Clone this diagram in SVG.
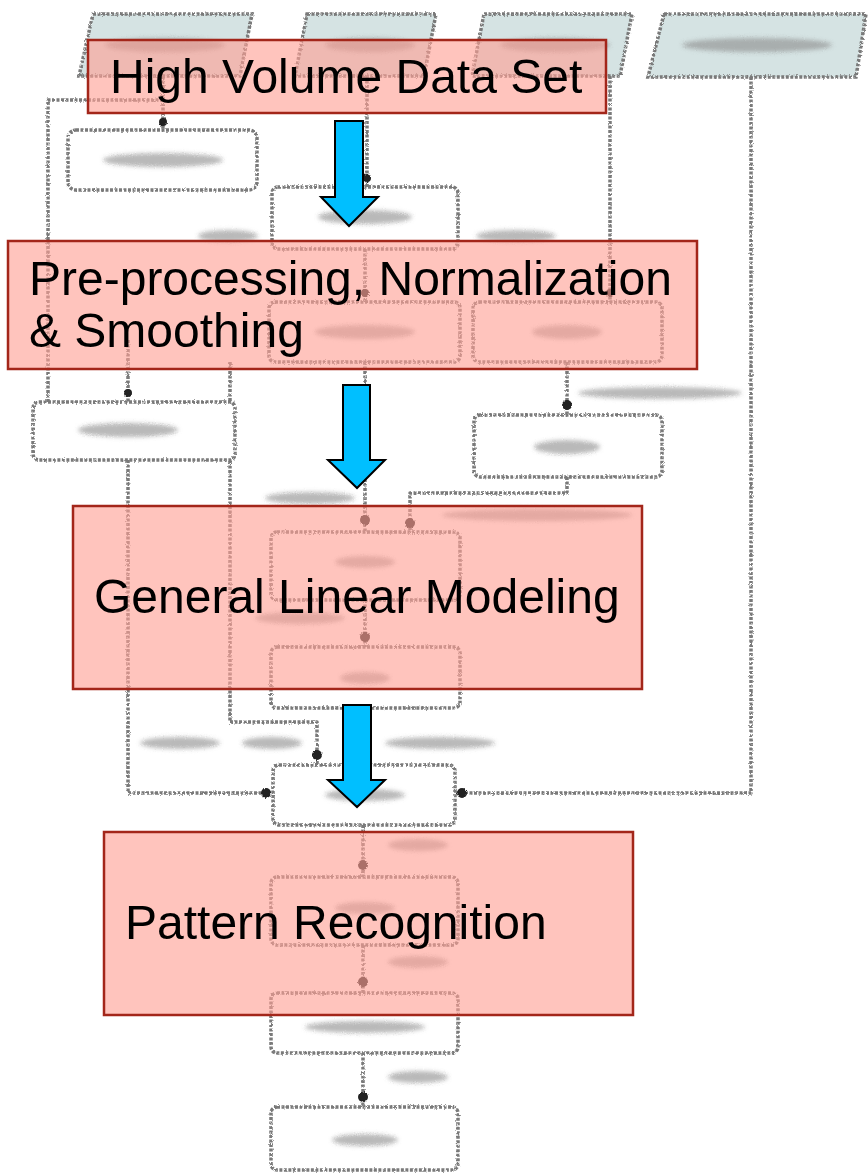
<svg xmlns="http://www.w3.org/2000/svg" width="868" height="1175" viewBox="0 0 868 1175">
<style>
.bg{fill:none;stroke:#7a7a7a;stroke-width:3.5;stroke-dasharray:3 1.5;stroke-linejoin:round}
.bgbox{fill:#ffffff;stroke:#7a7a7a;stroke-width:3.5;stroke-dasharray:3 1.5}
.io{fill:#d5e3e3;stroke:#7a7a7a;stroke-width:3.5;stroke-dasharray:3 1.5}
.blob{fill:#8a8a8a;opacity:0.6}
.dot{fill:#222222}
.node rect{fill:#ff9f94;fill-opacity:0.62;stroke:#a3261a;stroke-width:2.5}
.node text{font-family:"Liberation Sans",Arial,sans-serif;font-size:48px;fill:#000}
.arrow{fill:#00bfff;stroke:#000;stroke-width:2;stroke-linejoin:miter}
</style>
<defs>
<filter id="rough" x="-5%" y="-5%" width="110%" height="110%">
<feTurbulence type="fractalNoise" baseFrequency="0.9" numOctaves="1" seed="3" result="n"/>
<feDisplacementMap in="SourceGraphic" in2="n" scale="3" xChannelSelector="R" yChannelSelector="G"/>
</filter>
<filter id="fuzz" x="-20%" y="-50%" width="140%" height="200%">
<feGaussianBlur stdDeviation="2"/>
</filter>
</defs>
<rect width="868" height="1175" fill="#ffffff"/>

<g id="background-flowchart" filter="url(#rough)">
<polygon class="io" points="93,14 252,14 240,76 79,76"/>
<polygon class="io" points="307,14 436,14 424,76 295,76"/>
<polygon class="io" points="484,14 632,14 620,76 472,76"/>
<polygon class="io" points="664,14 866,14 856,77 648,77"/>
<path class="bg" d="M163,76 V130 M163,100 H48 V402"/>
<path class="bg" d="M367,76 V187"/>
<path class="bg" d="M610,76 V302"/>
<path class="bg" d="M751,77 V793 H455"/>
<path class="bg" d="M365,249 V302"/>
<path class="bg" d="M365,362 V532"/>
<path class="bg" d="M128,340 V402"/>
<path class="bg" d="M128,460 V793 H273"/>
<path class="bg" d="M230,362 V722 H317 V765"/>
<path class="bg" d="M567,362 V415"/>
<path class="bg" d="M567,477 V493 H410 V532"/>
<path class="bg" d="M365,600 V647"/>
<path class="bg" d="M365,708 V765"/>
<path class="bg" d="M363,825 V877"/>
<path class="bg" d="M363,945 V993"/>
<path class="bg" d="M363,1053 V1107"/>
<rect class="bgbox" x="68" y="130" width="189" height="60" rx="8"/>
<rect class="bgbox" x="272" y="187" width="186" height="62" rx="6"/>
<rect class="bgbox" x="269" y="302" width="191" height="60" rx="6"/>
<rect class="bgbox" x="473" y="302" width="189" height="60" rx="6"/>
<rect class="bgbox" x="33" y="402" width="202" height="58" rx="6"/>
<rect class="bgbox" x="474" y="415" width="188" height="62" rx="6"/>
<rect class="bgbox" x="271" y="532" width="189" height="68" rx="6"/>
<rect class="bgbox" x="271" y="647" width="189" height="61" rx="6"/>
<rect class="bgbox" x="273" y="765" width="182" height="60" rx="6"/>
<rect class="bgbox" x="271" y="877" width="187" height="68" rx="6"/>
<rect class="bgbox" x="271" y="993" width="187" height="60" rx="6"/>
<rect class="bgbox" x="271" y="1107" width="187" height="63" rx="6"/>
<g filter="url(#fuzz)">
<ellipse class="blob" cx="165" cy="45" rx="60" ry="7"/>
<ellipse class="blob" cx="370" cy="45" rx="45" ry="7"/>
<ellipse class="blob" cx="555" cy="45" rx="55" ry="7"/>
<ellipse class="blob" cx="757" cy="45" rx="75" ry="7"/>
<ellipse class="blob" cx="163" cy="160" rx="60" ry="7"/>
<ellipse class="blob" cx="365" cy="217" rx="47" ry="7"/>
<ellipse class="blob" cx="365" cy="332" rx="50" ry="7"/>
<ellipse class="blob" cx="567" cy="332" rx="35" ry="7"/>
<ellipse class="blob" cx="128" cy="430" rx="50" ry="7"/>
<ellipse class="blob" cx="567" cy="447" rx="33" ry="7"/>
<ellipse class="blob" cx="660" cy="393" rx="82" ry="6"/>
<ellipse class="blob" cx="228" cy="236" rx="30" ry="6"/>
<ellipse class="blob" cx="516" cy="236" rx="40" ry="6"/>
<ellipse class="blob" cx="537" cy="515" rx="95" ry="6"/>
<ellipse class="blob" cx="310" cy="498" rx="45" ry="6"/>
<ellipse class="blob" cx="365" cy="562" rx="30" ry="6"/>
<ellipse class="blob" cx="300" cy="618" rx="45" ry="6"/>
<ellipse class="blob" cx="365" cy="678" rx="25" ry="6"/>
<ellipse class="blob" cx="180" cy="743" rx="40" ry="6"/>
<ellipse class="blob" cx="272" cy="743" rx="30" ry="6"/>
<ellipse class="blob" cx="440" cy="743" rx="55" ry="6"/>
<ellipse class="blob" cx="365" cy="795" rx="40" ry="6"/>
<ellipse class="blob" cx="418" cy="845" rx="30" ry="6"/>
<ellipse class="blob" cx="365" cy="908" rx="30" ry="6"/>
<ellipse class="blob" cx="418" cy="962" rx="30" ry="6"/>
<ellipse class="blob" cx="365" cy="1027" rx="60" ry="6"/>
<ellipse class="blob" cx="418" cy="1077" rx="30" ry="6"/>
<ellipse class="blob" cx="365" cy="1140" rx="33" ry="6"/>
</g>
<circle class="dot" cx="163" cy="122" r="4"/>
<circle class="dot" cx="367" cy="178" r="4"/>
<circle class="dot" cx="365" cy="293" r="4"/>
<circle class="dot" cx="610" cy="293" r="4"/>
<circle class="dot" cx="128" cy="393" r="4"/>
<circle class="dot" cx="567" cy="405" r="5"/>
<circle class="dot" cx="365" cy="520" r="5"/>
<circle class="dot" cx="410" cy="523" r="5"/>
<circle class="dot" cx="365" cy="637" r="5"/>
<circle class="dot" cx="317" cy="755" r="5"/>
<circle class="dot" cx="266" cy="793" r="5"/>
<circle class="dot" cx="462" cy="793" r="5"/>
<circle class="dot" cx="363" cy="865" r="5"/>
<circle class="dot" cx="363" cy="982" r="5"/>
<circle class="dot" cx="363" cy="1097" r="5"/>
</g>

<g id="connectors">
<polygon class="arrow" points="335,121 363,121 363,197 378,197 349,226 321,197 335,197"/>
<polygon class="arrow" points="343,385 370,385 370,460 385,460 357,488 328,460 343,460"/>
<polygon class="arrow" points="343,705 371,705 371,780 385,780 357,807 328,780 343,780"/>
</g>

<g id="node-high-volume-data-set" class="node">
<rect x="88" y="40" width="518" height="73"/>
<text x="110" y="93">High Volume Data Set</text>
</g>
<g id="node-preprocessing" class="node">
<rect x="8" y="241" width="689" height="128"/>
<text x="29" y="295">Pre-processing, Normalization</text>
<text x="29" y="347">&amp; Smoothing</text>
</g>
<g id="node-general-linear-modeling" class="node">
<rect x="73" y="506" width="569" height="183"/>
<text x="94" y="613">General Linear Modeling</text>
</g>
<g id="node-pattern-recognition" class="node">
<rect x="104" y="832" width="529" height="183"/>
<text x="125" y="939">Pattern Recognition</text>
</g>
</svg>
